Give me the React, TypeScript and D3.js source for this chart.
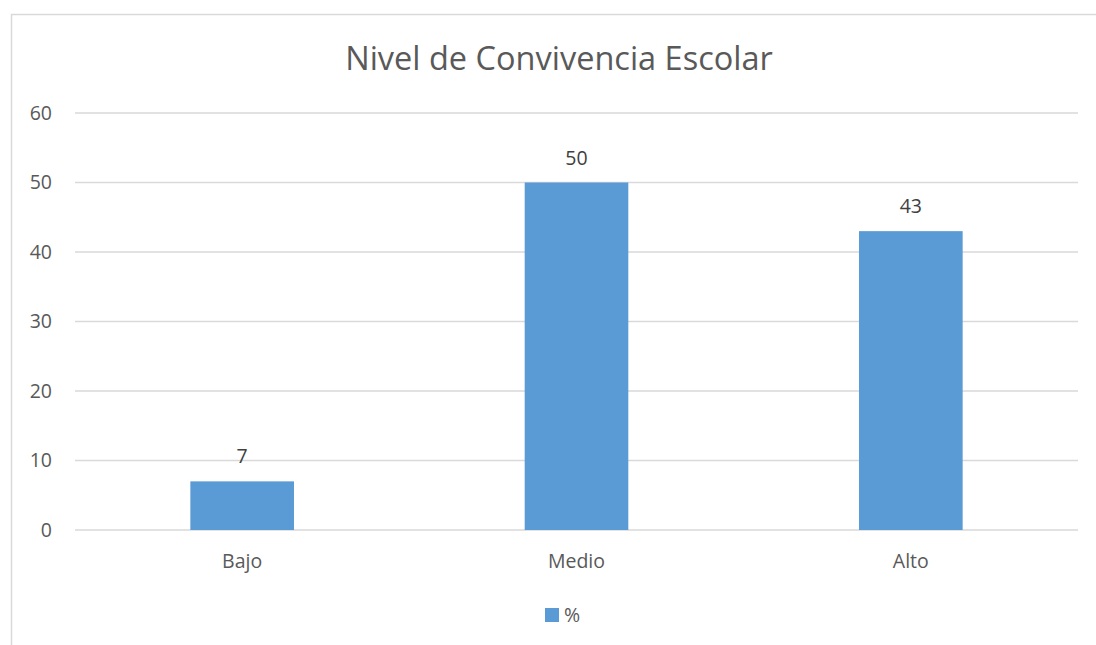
import { useEffect, useRef } from "react";
import * as d3 from "d3";

const categories = ["Bajo", "Medio", "Alto"];
const values = [7, 50, 43];
const yTicks = [0, 10, 20, 30, 40, 50, 60];
const seriesName = "%";
const title = "Nivel de Convivencia Escolar";

const W = 1096;
const H = 645;
const FONT = "'Open Sans', sans-serif";
const LABEL_SIZE = 19.5;

const App = () => {
  const svgRef = useRef<SVGSVGElement | null>(null);

  useEffect(() => {
    if (!svgRef.current) return;
    const svg = d3.select(svgRef.current);
    svg.selectAll("*").remove();

    const left = 75;
    const right = 1078;
    const top = 113;
    const bottom = 530;

    // chart frame
    svg.append("rect")
      .attr("x", 11.5).attr("y", 14.5)
      .attr("width", W + 20).attr("height", H + 20)
      .attr("fill", "white")
      .attr("stroke", "#d9d9d9").attr("stroke-width", 1.5);

    const x = d3.scaleBand()
      .domain(categories)
      .range([left, right])
      .paddingInner(0.69)
      .paddingOuter(0.345);

    const y = d3.scaleLinear().domain([0, 60]).range([bottom, top]);

    // gridlines
    svg.append("g")
      .selectAll("line")
      .data(yTicks)
      .enter().append("line")
      .attr("x1", left).attr("x2", right)
      .attr("y1", d => y(d)).attr("y2", d => y(d))
      .attr("stroke", "#d9d9d9").attr("stroke-width", 1.5);

    // y tick labels
    svg.append("g")
      .selectAll("text")
      .data(yTicks)
      .enter().append("text")
      .attr("x", 52).attr("y", d => y(d))
      .attr("dy", "0.35em")
      .attr("text-anchor", "end")
      .attr("font-family", FONT).attr("font-size", LABEL_SIZE)
      .attr("fill", "#595959")
      .text(d => d);

    // bars
    svg.append("g")
      .selectAll("rect")
      .data(values)
      .enter().append("rect")
      .attr("x", (_, i) => x(categories[i]) ?? 0)
      .attr("y", d => y(d))
      .attr("width", x.bandwidth())
      .attr("height", d => bottom - y(d))
      .attr("fill", "#5b9bd5");

    // value labels
    svg.append("g")
      .selectAll("text")
      .data(values)
      .enter().append("text")
      .attr("x", (_, i) => (x(categories[i]) ?? 0) + x.bandwidth() / 2)
      .attr("y", d => y(d) - 18)
      .attr("text-anchor", "middle")
      .attr("font-family", FONT).attr("font-size", LABEL_SIZE)
      .attr("fill", "#404040")
      .text(d => d);

    // category labels
    svg.append("g")
      .selectAll("text")
      .data(categories)
      .enter().append("text")
      .attr("x", d => (x(d) ?? 0) + x.bandwidth() / 2)
      .attr("y", 568)
      .attr("text-anchor", "middle")
      .attr("font-family", FONT).attr("font-size", LABEL_SIZE)
      .attr("fill", "#595959")
      .text(d => d);

    // title
    svg.append("text")
      .attr("x", 559).attr("y", 70)
      .attr("text-anchor", "middle")
      .attr("font-family", FONT).attr("font-size", 32.5)
      .attr("fill", "#595959")
      .text(title);

    // legend
    const lg = svg.append("g");
    lg.append("rect")
      .attr("x", 545).attr("y", 608)
      .attr("width", 14).attr("height", 14)
      .attr("fill", "#5b9bd5");
    lg.append("text")
      .attr("x", 564).attr("y", 615)
      .attr("dy", "0.35em")
      .attr("font-family", FONT).attr("font-size", LABEL_SIZE)
      .attr("fill", "#595959")
      .text(seriesName);
  }, []);

  return (
    <svg
      ref={svgRef}
      width={W}
      height={H}
      style={{ position: "absolute", left: 0, top: 0, background: "white" }}
    />
  );
};

export default App;
